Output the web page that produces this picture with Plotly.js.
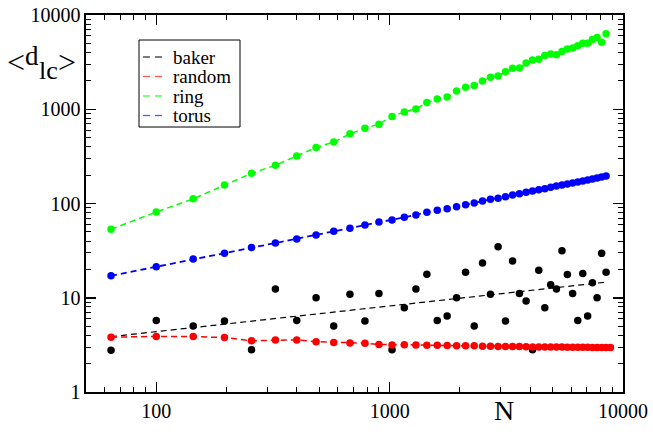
<!DOCTYPE html>
<html>
<head>
<meta charset="utf-8">
<script src="https://cdn.plot.ly/plotly-3.0.1.min.js"></script>
<style>
  html, body { margin: 0; padding: 0; background: #ffffff; }
  #chart { width: 653px; height: 432px; }
</style>
</head>
<body>
<div id="chart"></div>
<script>
// Network size N (square lattices, side 8..92)
const sizes = [64, 100, 144, 196, 256, 324, 400, 484, 576, 676, 784, 900, 1024, 1156, 1296,
  1444, 1600, 1764, 1936, 2116, 2304, 2500, 2704, 2916, 3136, 3364, 3600, 3844, 4096, 4356,
  4624, 4900, 5184, 5476, 5776, 6084, 6400, 6724, 7056, 7396, 7744, 8100, 8464];
// the random graph runs one size further (side 94)
const sizesRandom = sizes.concat([8836]);

// mean distance <d_lc> for each network type
const baker = [2.78, 5.75, 5.02, 5.67, 2.80, 12.4, 5.75, 10.0, 5.02, 10.9, 5.67, 11.1, 2.80,
  7.84, 12.4, 17.8, 5.75, 6.41, 10.0, 18.7, 5.00, 23.4, 10.9, 34.8, 5.67, 24.6, 11.1, 9.23,
  2.80, 19.6, 7.84, 13.7, 12.4, 31.6, 17.6, 11.1, 5.75, 18.1, 6.41, 14.4, 10.0, 29.6, 18.7];
const random = [3.82, 3.89, 3.87, 3.78, 3.50, 3.57, 3.57, 3.42, 3.36, 3.31, 3.30, 3.19, 3.15,
  3.17, 3.16, 3.13, 3.14, 3.12, 3.10, 3.10, 3.09, 3.06, 3.05, 3.04, 3.03, 3.03, 3.03, 3.02,
  3.01, 3.01, 3.01, 3.00, 3.00, 3.00, 2.99, 2.99, 2.98, 2.98, 2.98, 2.97, 2.97, 2.97, 2.96, 2.96];
const ring = [53.3, 81.3, 112, 157, 209, 254, 320, 393, 448, 548, 630, 695, 840, 936, 1007,
  1177, 1285, 1349, 1562, 1709, 1781, 1993, 2181, 2251, 2506, 2717, 2736, 3090, 3325, 3383,
  3727, 3848, 3792, 4110, 4347, 4454, 4723, 5030, 5030, 5505, 5779, 5154, 6324];
const torus = [17.1, 21.3, 25.7, 29.7, 34.1, 38.2, 42.1, 46.4, 50.8, 54.7, 59.2, 63.7, 66.9,
  71.5, 75.6, 80.7, 84.7, 88.1, 92.5, 97.1, 101.2, 106.3, 110.8, 114.0, 118.0, 123.0, 127.0,
  131.4, 135.6, 140.0, 143.4, 148.4, 153.2, 157.0, 160.8, 164.8, 168.9, 173.0, 177.4, 181.7,
  186.2, 190.8, 195.4];

const seriesNames = ['baker', 'random', 'ring', 'torus'];
const seriesColors = ['#000000', '#ff0000', '#00ff00', '#0000ff'];
const legendColors = ['#333333', '#ff5555', '#33ff33', '#5555ff'];

const xTickVals = [100, 1000, 10000];
const xTickText = ['100', '1000', '10000'];
const yTickVals = [1, 10, 100, 1000, 10000];
const yTickText = ['1', '10', '100', '1000', '10000'];

// minor ticks at 2..9 of every decade
function minorTicks(lo, hi) {
  const out = [];
  for (let d = lo; d < hi; d *= 10) for (let k = 2; k <= 9; k++) out.push(k * d);
  return out;
}

// power-law least squares fit in log-log space
function powerFit(xs, ys) {
  const lx = xs.map(Math.log10), ly = ys.map(Math.log10);
  const n = lx.length;
  const mx = lx.reduce((a, b) => a + b, 0) / n, my = ly.reduce((a, b) => a + b, 0) / n;
  let sxy = 0, sxx = 0;
  for (let i = 0; i < n; i++) { sxy += (lx[i] - mx) * (ly[i] - my); sxx += (lx[i] - mx) ** 2; }
  const b = sxy / sxx, a = my - b * mx;
  return x => Math.pow(10, a + b * Math.log10(x));
}
const bakerFit = powerFit(sizes, baker);
const fitX = [sizes[0], sizes[sizes.length - 1]];

const dash = '6px,4px';
const traces = [];

// dashed curves
traces.push({ x: fitX, y: fitX.map(bakerFit), mode: 'lines', name: seriesNames[0],
  line: { color: seriesColors[0], width: 1.2, dash: dash } });
traces.push({ x: sizesRandom, y: random, mode: 'lines', name: seriesNames[1],
  line: { color: seriesColors[1], width: 1.5, dash: dash } });
traces.push({ x: sizes, y: ring, mode: 'lines', name: seriesNames[2],
  line: { color: seriesColors[2], width: 1.5, dash: dash } });
traces.push({ x: sizes, y: torus, mode: 'lines', name: seriesNames[3],
  line: { color: seriesColors[3], width: 1.8, dash: dash } });

// data points
[[sizes, baker], [sizesRandom, random], [sizes, ring], [sizes, torus]].forEach((s, i) => {
  traces.push({ x: s[0], y: s[1], mode: 'markers', showlegend: false, hoverinfo: 'skip',
    marker: { color: seriesColors[i], size: 7.5, line: { width: 0 } } });
});

const L = 86, T = 15, W = 537, H = 377;
const px = v => (v - L) / W;
const py = v => (T + H - v) / H;
const serif = 'Liberation Serif';

const axisCommon = {
  type: 'log', showgrid: false, zeroline: false,
  showline: true, linecolor: '#000', linewidth: 1.6, mirror: 'ticks',
  ticks: 'inside', ticklen: 10, tickwidth: 1.5, tickcolor: '#000',
  tickmode: 'array',
  tickfont: { family: serif, size: 20, color: '#000' }
};

// legend box drawn as shapes + text
const legBox = { x0: 139, x1: 240, y0: 40, y1: 127 };
const legRows = [57, 76.5, 96, 115.5];
const shapes = [{
  type: 'rect', xref: 'paper', yref: 'paper',
  x0: px(legBox.x0), x1: px(legBox.x1), y0: py(legBox.y1), y1: py(legBox.y0),
  line: { color: '#000', width: 1 }, fillcolor: '#fff', layer: 'above'
}];
const annotations = [];
legRows.forEach((ry, i) => {
  [[143, 150], [155, 162]].forEach(seg => shapes.push({
    type: 'line', xref: 'paper', yref: 'paper', x0: px(seg[0]), x1: px(seg[1]), y0: py(ry), y1: py(ry),
    line: { color: legendColors[i], width: 1.3 }, layer: 'above'
  }));
  annotations.push({ text: seriesNames[i], x: px(172), y: py(ry), xref: 'paper', yref: 'paper',
    xanchor: 'left', yanchor: 'middle', showarrow: false, borderpad: 0,
    font: { family: serif, size: 19, color: '#000' } });
});

// axis titles: <d_lc> built from pieces, N below the axis
const titlePart = (text, x, y, size) => ({
  text: text, x: px(x), y: py(y), xref: 'paper', yref: 'paper', xanchor: 'left', yanchor: 'middle',
  showarrow: false, borderpad: 0, font: { family: serif, size: size, color: '#000' }
});
annotations.push(
  titlePart('&lt;', 6, 62, 32),
  titlePart('d', 24, 56, 27),
  titlePart('lc', 38, 70, 26),
  titlePart('&gt;', 57, 62, 32),
  { text: 'N', x: px(504), y: py(411), xref: 'paper', yref: 'paper', xanchor: 'center', yanchor: 'middle',
    showarrow: false, font: { family: serif, size: 28, color: '#000' } }
);

const layout = {
  width: 653, height: 432,
  margin: { l: L, r: 653 - L - W, t: T, b: 432 - T - H },
  paper_bgcolor: '#fff', plot_bgcolor: '#fff',
  showlegend: false,
  xaxis: Object.assign({}, axisCommon, {
    range: [Math.log10(50), 4], tickvals: xTickVals, ticktext: xTickText,
    minor: { tickmode: 'array', tickvals: minorTicks(10, 10000).filter(v => v > 50),
      ticks: 'inside', ticklen: 5, tickwidth: 1, tickcolor: '#000' }
  }),
  yaxis: Object.assign({}, axisCommon, {
    range: [0, 4], tickvals: yTickVals, ticktext: yTickText,
    minor: { tickmode: 'array', tickvals: minorTicks(1, 10000),
      ticks: 'inside', ticklen: 5, tickwidth: 1, tickcolor: '#000' }
  }),
  shapes: shapes,
  annotations: annotations
};

Plotly.newPlot('chart', traces, layout, { displayModeBar: false, staticPlot: true });
</script>
</body>
</html>
